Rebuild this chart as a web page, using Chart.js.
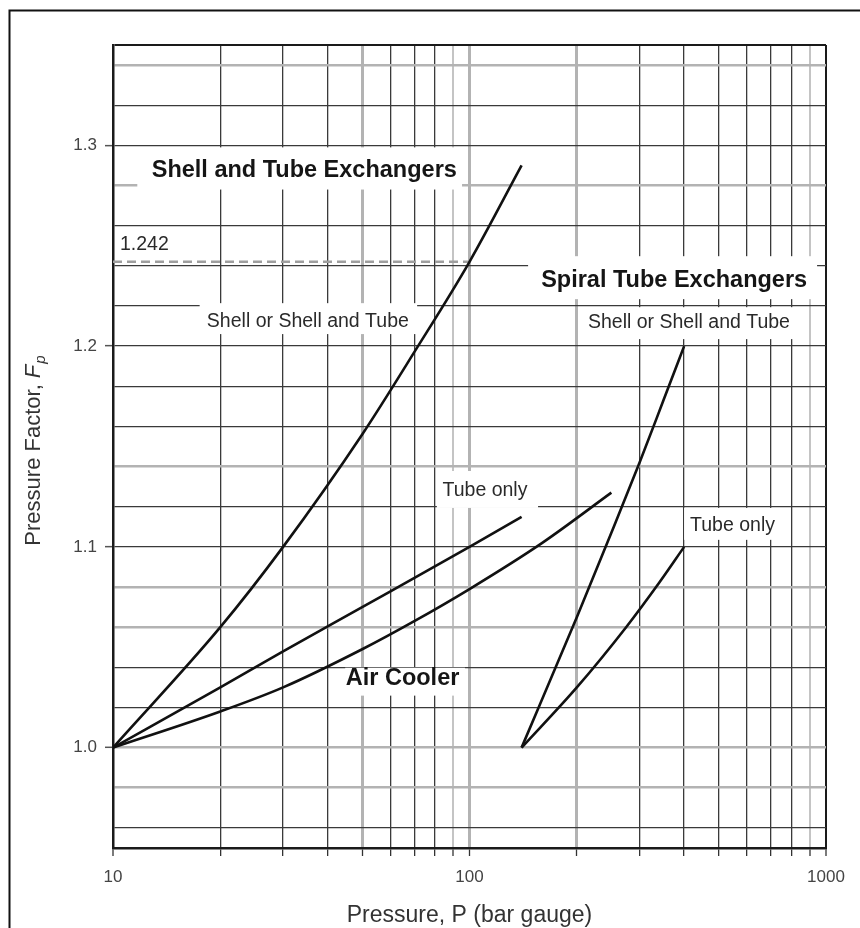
<!DOCTYPE html>
<html>
<head>
<meta charset="utf-8">
<script src="https://cdn.jsdelivr.net/npm/chart.js@4.4.0/dist/chart.umd.min.js"></script>
<style>
  body { margin: 0; background: #fff; }
  canvas { display: block; }
</style>
</head>
<body>
<canvas id="mycanvas" width="860" height="928"></canvas>
<script>
// pressure P (bar gauge) and pressure factor Fp
var shellTubeP = [10, 20, 30, 50, 70, 100, 140];
var shellTubeF = [1.0, 1.06, 1.1, 1.156, 1.197, 1.242, 1.29];

var tubeOnlyP = [10, 20, 30, 50, 100, 140];
var tubeOnlyF = [1.0, 1.03, 1.048, 1.07, 1.1, 1.115];

var airCoolerP = [10, 20, 30, 50, 70, 100, 160, 250];
var airCoolerF = [1.0, 1.018, 1.03, 1.049, 1.063, 1.079, 1.102, 1.127];

var spiralShellP = [140, 200, 250, 300, 350, 400];
var spiralShellF = [1.0, 1.065, 1.107, 1.142, 1.173, 1.2];

var spiralTubeP = [140, 200, 275, 340, 400];
var spiralTubeF = [1.0, 1.03, 1.06, 1.082, 1.1];

var refLineP = [10, 100];
var refLineF = [1.242, 1.242];

// axes
var xTicks = [10, 20, 30, 40, 50, 60, 70, 80, 90, 100, 200, 300, 400, 500, 600, 700, 800, 900, 1000];
var xLabels = [10, 100, 1000];
var yTicks = [0.95, 0.96, 0.98, 1.0, 1.02, 1.04, 1.06, 1.08, 1.1, 1.12, 1.14, 1.16, 1.18, 1.2,
              1.22, 1.24, 1.26, 1.28, 1.3, 1.32, 1.34, 1.35];
var yLabels = [1.0, 1.1, 1.2, 1.3];

// text on the chart: anchor and white box in data units
var notes = [
  { text: 'Shell and Tube Exchangers', bold: true, p: 34.4, f: 1.2876, box: [11.7, 95.3, 1.299, 1.278] },
  { text: '1.242', bold: false, left: true, p: 10.46, f: 1.2505, box: [10.2, 14.6, 1.2552, 1.2453] },
  { text: 'Shell or Shell and Tube', bold: false, p: 35.2, f: 1.2122, box: [17.5, 71.3, 1.2214, 1.206] },
  { text: 'Spiral Tube Exchangers', bold: true, p: 375, f: 1.2326, box: [146, 944, 1.2448, 1.2234] },
  { text: 'Shell or Shell and Tube', bold: false, p: 412.7, f: 1.2119, box: [207, 873, 1.2194, 1.2035] },
  { text: 'Tube only', bold: false, p: 110.5, f: 1.1279, box: [81, 155.7, 1.1378, 1.1194] },
  { text: 'Tube only', bold: false, p: 546.8, f: 1.1104, box: [400, 743, 1.1194, 1.1035] },
  { text: 'Air Cooler', bold: true, p: 64.9, f: 1.0343, box: [44.8, 97.1, 1.0398, 1.0259] }
];

// scanned grid: some lines print pale and thick
var paleX = [50, 100, 200];
var faintX = [90, 900];
var paleY = [0.98, 1.0, 1.06, 1.08, 1.14, 1.28, 1.34];

var FONT = '"Liberation Sans", Arial, Helvetica, sans-serif';

function pts(xs, ys) {
  var out = [];
  for (var i in xs) {
    out.push({ x: xs[i], y: ys[i] });
  }
  return out;
}

function has(list, v) {
  for (var i = 0; i < list.length; i++) {
    if (Math.abs(list[i] - v) < 1e-6) return true;
  }
  return false;
}

function xGrid(ctx) {
  var v = ctx.tick ? ctx.tick.value : 0;
  if (v === 10 || v === 1000) return ['#1a1a1a', 2];
  if (has(paleX, v)) return ['#b3b3b3', 3];
  if (has(faintX, v)) return ['#c4c4c4', 2];
  return ['#3a3a3a', 1.3];
}

function yGrid(ctx) {
  var v = ctx.tick ? ctx.tick.value : 0;
  if (has([0.95, 1.35], v)) return ['#1a1a1a', 2];
  if (has(paleY, v)) return ['#b3b3b3', 2.6];
  return ['#3a3a3a', 1.3];
}

var curve = {
  borderColor: '#111',
  borderWidth: 2.6,
  pointRadius: 0,
  fill: false,
  cubicInterpolationMode: 'monotone'
};

function lineSet(label, xs, ys) {
  return Object.assign({ label: label, data: pts(xs, ys) }, curve);
}

var notesPlugin = {
  id: 'notes',
  beforeDatasetsDraw: function(chart) {
    var c = chart.ctx, xs = chart.scales.x, ys = chart.scales.y;
    c.save();
    c.fillStyle = '#fff';
    notes.forEach(function(n) {
      var x1 = xs.getPixelForValue(n.box[0]), x2 = xs.getPixelForValue(n.box[1]);
      var y1 = ys.getPixelForValue(n.box[2]), y2 = ys.getPixelForValue(n.box[3]);
      c.fillRect(x1, y1, x2 - x1, y2 - y1);
    });
    c.restore();
  },
  afterDatasetsDraw: function(chart) {
    var c = chart.ctx, xs = chart.scales.x, ys = chart.scales.y;
    c.save();
    c.textBaseline = 'middle';
    notes.forEach(function(n) {
      c.font = n.bold ? 'bold 23.5px ' + FONT : '19.5px ' + FONT;
      c.fillStyle = n.bold ? '#151515' : '#2a2a2a';
      c.textAlign = n.left ? 'left' : 'center';
      c.fillText(n.text, xs.getPixelForValue(n.p), ys.getPixelForValue(n.f));
    });
    c.restore();
  },
  afterDraw: function(chart) {
    var c = chart.ctx, a = chart.chartArea;
    c.save();
    // outer frame of the figure (left and top edges)
    c.strokeStyle = '#111';
    c.lineWidth = 2;
    c.beginPath();
    c.moveTo(9.5, 928);
    c.lineTo(9.5, 10.5);
    c.lineTo(860, 10.5);
    c.stroke();

    // x axis title
    c.fillStyle = '#333';
    c.font = '23px ' + FONT;
    c.textAlign = 'center';
    c.textBaseline = 'middle';
    c.fillText('Pressure, P (bar gauge)', (a.left + a.right) / 2, 916);

    // y axis title with italic F and subscript p
    var t1 = 'Pressure Factor, ';
    c.font = '22px ' + FONT;
    var w1 = c.measureText(t1).width;
    c.font = 'italic 22px ' + FONT;
    var w2 = c.measureText('F').width;
    c.font = 'italic 15px ' + FONT;
    var w3 = c.measureText('p').width;
    var total = w1 + w2 + w3 + 1;
    c.translate(32, (a.top + a.bottom) / 2 + 4);
    c.rotate(-Math.PI / 2);
    c.textAlign = 'left';
    c.textBaseline = 'alphabetic';
    var sx = -total / 2;
    c.font = '22px ' + FONT;
    c.fillText(t1, sx, 8);
    c.font = 'italic 22px ' + FONT;
    c.fillText('F', sx + w1, 8);
    c.font = 'italic 15px ' + FONT;
    c.fillText('p', sx + w1 + w2 + 1, 13);
    c.restore();
  }
};

var chartdata = {
  datasets: [
    lineSet('Shell or Shell and Tube', shellTubeP, shellTubeF),
    lineSet('Tube only', tubeOnlyP, tubeOnlyF),
    lineSet('Air Cooler', airCoolerP, airCoolerF),
    lineSet('Spiral Shell or Shell and Tube', spiralShellP, spiralShellF),
    lineSet('Spiral Tube only', spiralTubeP, spiralTubeF),
    {
      label: '1.242',
      data: pts(refLineP, refLineF),
      borderColor: '#9e9e9e',
      borderWidth: 2.5,
      borderDash: [9, 5],
      pointRadius: 0,
      fill: false
    }
  ]
};

var ctx = document.getElementById('mycanvas');

var PressureChart = new Chart(ctx, {
  type: 'line',
  data: chartdata,
  plugins: [notesPlugin],
  options: {
    responsive: false,
    animation: false,
    events: [],
    layout: { padding: { left: 0, top: 45, right: 34, bottom: 0 } },
    plugins: {
      legend: { display: false },
      tooltip: { enabled: false }
    },
    scales: {
      x: {
        type: 'logarithmic',
        min: 10,
        max: 1000,
        afterBuildTicks: function(scale) {
          scale.ticks = xTicks.map(function(v) { return { value: v, major: has(xLabels, v) }; });
        },
        afterFit: function(scale) { scale.height = 80; },
        ticks: {
          autoSkip: false,
          maxRotation: 0,
          padding: 11,
          color: '#444',
          font: { family: FONT, size: 17 },
          callback: function(value) { return has(xLabels, value) ? String(value) : ''; }
        },
        grid: {
          color: function(c) { return xGrid(c)[0]; },
          lineWidth: function(c) { return xGrid(c)[1]; },
          tickColor: '#333',
          tickWidth: 1.3,
          tickLength: 8
        },
        border: { display: true, color: '#1a1a1a', width: 2.5 }
      },
      y: {
        type: 'linear',
        min: 0.95,
        max: 1.35,
        afterBuildTicks: function(scale) {
          scale.ticks = yTicks.map(function(v) { return { value: v }; });
        },
        afterFit: function(scale) { scale.width = 113; },
        ticks: {
          autoSkip: false,
          padding: 8,
          color: '#444',
          font: { family: FONT, size: 17 },
          callback: function(value) { return has(yLabels, value) ? value.toFixed(1) : ''; }
        },
        grid: {
          color: function(c) { return yGrid(c)[0]; },
          lineWidth: function(c) { return yGrid(c)[1]; },
          tickColor: function(c) { return c.tick && has(yLabels, c.tick.value) ? '#555' : 'rgba(0,0,0,0)'; },
          tickWidth: 1.5,
          tickLength: 8
        },
        border: { display: true, color: '#1a1a1a', width: 2.5 }
      }
    }
  }
});
</script>
</body>
</html>
